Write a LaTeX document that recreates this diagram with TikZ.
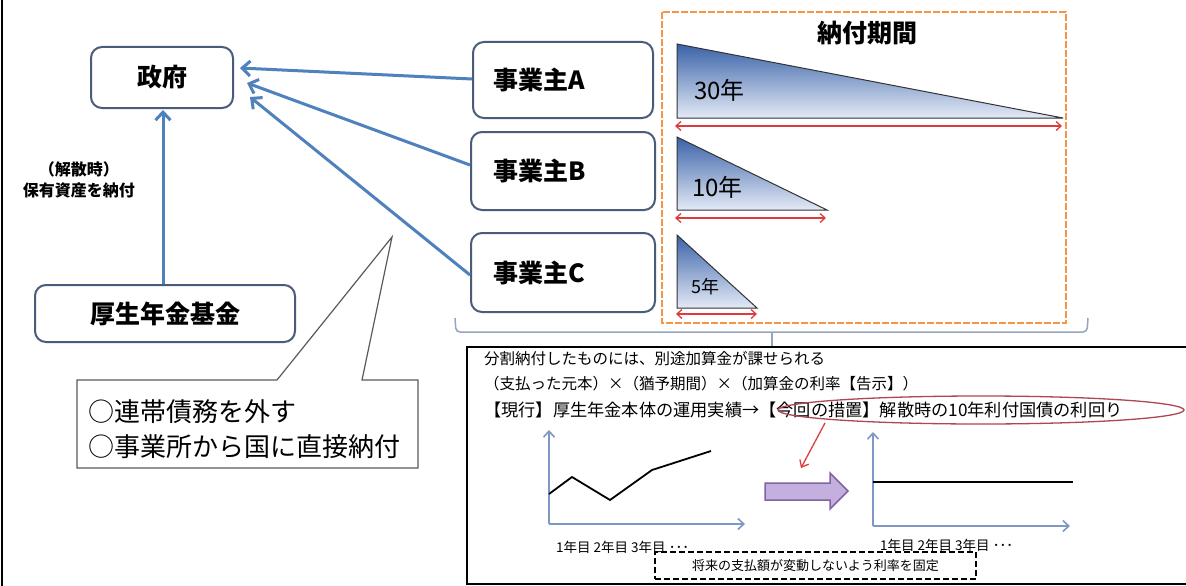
\documentclass[tikz,border=0pt]{standalone}
\usepackage{fontspec}
\setmainfont{Noto Sans CJK JP}
\usetikzlibrary{arrows.meta,shapes.geometric}
\definecolor{boxborder}{RGB}{74,92,124}
\definecolor{arrowblue}{RGB}{79,129,189}
\definecolor{orangeb}{RGB}{245,150,70}
\definecolor{redarr}{RGB}{222,60,60}
\definecolor{ellred}{RGB}{175,70,85}
\definecolor{purplefill}{RGB}{196,176,222}
\definecolor{purpleborder}{RGB}{128,100,162}
\definecolor{axisblue}{RGB}{125,152,195}
\definecolor{bracegray}{RGB}{150,165,190}
\definecolor{tridark}{RGB}{58,98,168}
\definecolor{trilight}{RGB}{228,234,246}
\definecolor{calloutgray}{RGB}{90,90,90}
\begin{document}
\begin{tikzpicture}[x=1pt,y=-1pt,
  rbox/.style={draw=boxborder, line width=2pt, rounded corners=11pt, fill=white, inner sep=0pt},
  bluearrow/.style={draw=arrowblue, line width=3pt, -{Straight Barb[length=8pt,width=15pt,line width=3pt]}},
  redarrow/.style={draw=redarr, line width=1.3pt, {Straight Barb[length=5pt,width=9pt]}-{Straight Barb[length=5pt,width=9pt]}},
  axisarrow/.style={draw=axisblue, line width=1.6pt, -{Straight Barb[length=6pt,width=11pt]}},
  tri/.style={draw=black!80, line width=1pt, top color=tridark, bottom color=trilight},
  big/.style={font=\fontsize{25}{30}\selectfont\bfseries},
  txt/.style={font=\fontsize{15.5}{19}\selectfont, anchor=west, inner sep=0pt},
  small/.style={font=\fontsize{13.5}{16}\selectfont, inner sep=0pt}]
\useasboundingbox (0,0) rectangle (1186,586);
\fill[white] (0,0) rectangle (1186,586);
% left border
\draw[black, line width=2pt] (2,0) -- (2,586);

% government and fund
\node[rbox, big, minimum width=142pt, minimum height=61pt] (seifu) at (162,77.5) {政府};
\node[rbox, big, minimum width=260pt, minimum height=57pt] (kikin) at (165,313.5) {厚生年金基金};
\draw[bluearrow] (kikin.north -| 163,0) -- (163,110);
\node[font=\fontsize{16}{19}\selectfont\bfseries, align=center, inner sep=0pt] (kaisan) at (79,180) {（解散時）\\[2pt]保有資産を納付};

% employers
\node[rbox, big, minimum width=180pt, minimum height=76pt, text width=140pt, align=left, inner xsep=20pt] (jA) at (563,80) {事業主A};
\node[rbox, big, minimum width=180pt, minimum height=78pt, text width=140pt, align=left, inner xsep=22pt] (jB) at (563,171) {事業主B};
\node[rbox, big, minimum width=180pt, minimum height=79pt, text width=140pt, align=left, inner xsep=22pt] (jC) at (563,272.5) {事業主C};
\coordinate (tA) at (240,68);
\coordinate (tB) at (247,83);
\coordinate (tC) at (250,97);
\draw[bluearrow] (jA.west |- 0,79) -- (tA);
\draw[bluearrow] (jB.west |- 0,165) -- (tB);
\draw[bluearrow] (jC.west |- 0,275) -- (tC);

% callout
\draw[calloutgray, line width=1.2pt, fill=white] (77,380) -- (277,380) -- (392,237) -- (362,380) -- (418,380) -- (418,468) -- (77,468) -- cycle;
\node[font=\fontsize{26}{30}\selectfont, anchor=west, inner sep=0pt] (c1) at (88,412) {○連帯債務を外す};
\node[font=\fontsize{26}{30}\selectfont, anchor=west, inner sep=0pt] (c2) at (88,447) {○事業所から国に直接納付};

% payment period box
\draw[orangeb, line width=2.2pt, dash pattern=on 7pt off 2pt] (662,12) rectangle (1066,323);
\node[font=\fontsize{25}{30}\selectfont\bfseries] (kikan) at (867,33) {納付期間};
\draw[tri] (677,44) -- (677,118) -- (1063,118) -- cycle;
\node[font=\fontsize{24}{28}\selectfont, anchor=west, inner sep=0pt] (y30) at (694,90) {30年};
\coordinate (a30l) at (675,126); \coordinate (a30r) at (1062,126);
\draw[redarrow] (a30l) -- (a30r);
\draw[tri] (677,137) -- (677,210) -- (827,210) -- cycle;
\node[font=\fontsize{24}{28}\selectfont, anchor=west, inner sep=0pt] (y10) at (692,187) {10年};
\coordinate (a10l) at (675,218); \coordinate (a10r) at (826,218);
\draw[redarrow] (a10l) -- (a10r);
\draw[tri] (677,235) -- (677,308) -- (757,308) -- cycle;
\node[font=\fontsize{18}{22}\selectfont, anchor=west, inner sep=0pt] (y5) at (691,287) {5年};
\coordinate (a5l) at (676,314); \coordinate (a5r) at (757,314);
\draw[redarrow] (a5l) -- (a5r);

% brace
\draw[bracegray, line width=1.5pt, rounded corners=4pt] (455,318) -- (456,332) -- (1087,332) -- (1088,318);
\coordinate (bmid) at (772,332);
\coordinate (bbot) at (772,346);
\draw[bracegray, line width=1.5pt] (bmid) -- (bbot);

% bottom box
\draw[black, line width=1.8pt] (1190,347) -- (467,347) -- (467,584) -- (1190,584);
\node[txt] (l1) at (484,359) {分割納付したものには、別途加算金が課せられる};
\node[txt] (l2) at (484,384) {（支払った元本）×（猶予期間）×（加算金の利率【告示】）};
\node[txt, font=\fontsize{17.2}{20}\selectfont] (l3) at (484,410) {【現行】厚生年金本体の運用実績→【今回の措置】解散時の10年利付国債の利回り};
\node[draw=ellred, line width=1.3pt, ellipse, minimum width=406pt, minimum height=28pt, inner sep=0pt] (ell) at (981,410) {};
\coordinate (rstart) at (825,423);
\coordinate (rtip) at (801,468);
\draw[redarr, line width=1.3pt, -{Straight Barb[length=6pt,width=10pt]}] (rstart) -- (rtip);

% left chart
\coordinate (o1) at (549,524);
\coordinate (y1) at (549,430);
\coordinate (x1) at (745,524);
\draw[axisarrow] (o1) -- (y1);
\draw[axisarrow] (o1) -- (x1);
\draw[black, line width=1.8pt] (549,494) -- (572,477) -- (610,500) -- (652,470) -- (711,451);
\node[small, anchor=west] (lab1) at (556,547) {1年目 2年目 3年目 ･･･};

% purple arrow
\draw[purpleborder, line width=1.5pt, fill=purplefill] (765,483) -- (830,483) -- (830,473) -- (848,491) -- (830,509) -- (830,500) -- (765,500) -- cycle;

% right chart
\coordinate (o2) at (873,526);
\coordinate (y2) at (873,432);
\coordinate (x2) at (1070,526);
\draw[axisarrow] (o2) -- (y2);
\draw[axisarrow] (o2) -- (x2);
\draw[black, line width=1.8pt] (873,482) -- (1073,482);
\node[small, anchor=west] (lab2) at (880,545) {1年目 2年目 3年目 ･･･};

% fixed-rate note
\node[draw=black, dash pattern=on 6pt off 3pt, line width=1.5pt, minimum width=321pt, minimum height=27pt, font=\fontsize{13}{15}\selectfont, inner sep=0pt] (note) at (815.5,565.5) {将来の支払額が変動しないよう利率を固定};
\end{tikzpicture}
\end{document}
